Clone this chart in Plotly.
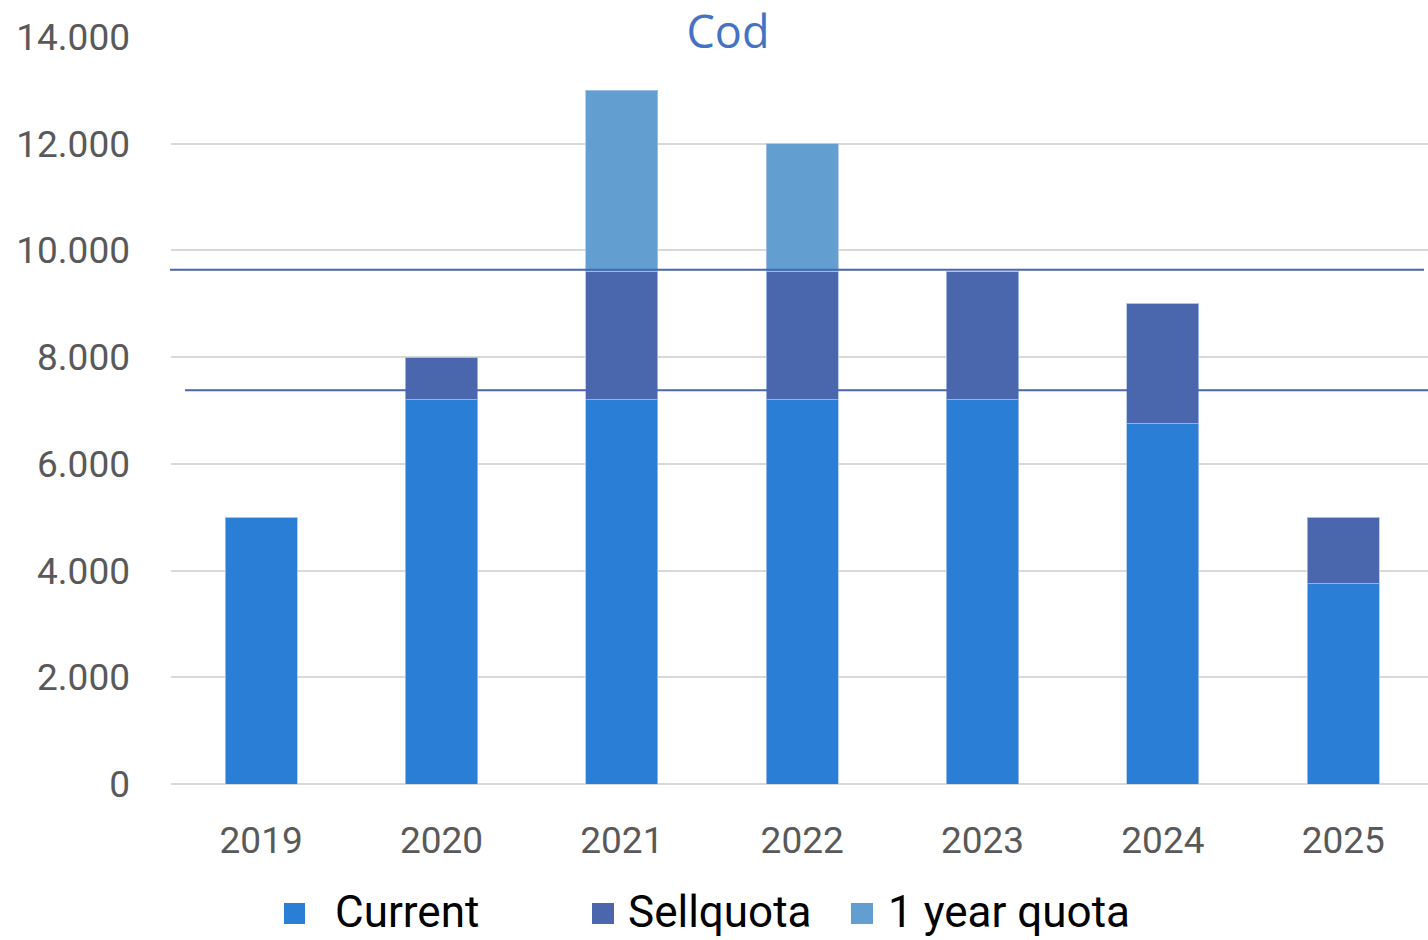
import plotly.graph_objects as go

years = ["2019", "2020", "2021", "2022", "2023", "2024", "2025"]
current = [5000, 7200, 7200, 7200, 7200, 6750, 3750]
sellquota = [0, 800, 2400, 2400, 2400, 2250, 1250]
one_year_quota = [0, 0, 3400, 2400, 0, 0, 0]
series_names = ["Current", "Sellquota", "1 year quota"]
series_colors = ["#2A7ED6", "#4A67AD", "#639ED0"]
ref_levels = [9640, 7380]
y_ticks = [0, 2000, 4000, 6000, 8000, 10000, 12000, 14000]

W, H = 1428, 940
L, R, T, B = 171, 0, 37, 156
PW, PH = W - L - R, H - T - B

def px_x(px):
    return (px - L) / PW

def px_y(py):
    return (H - B - py) / PH

fig = go.Figure()
for name, vals, col in zip(series_names, [current, sellquota, one_year_quota], series_colors):
    fig.add_trace(go.Bar(
        x=years, y=vals, name=name, width=0.4,
        marker=dict(color=col, line=dict(color="rgba(170,195,235,0.8)", width=1)),
        showlegend=False,
    ))

# reference lines
line_spans = [(170, 1424), (185, 1428)]
for lvl, (a, b) in zip(ref_levels, line_spans):
    fig.add_shape(type="line", xref="paper", yref="y", x0=px_x(a), x1=px_x(b),
                  y0=lvl, y1=lvl, line=dict(color="#4A67AD", width=2), layer="above")

# manual legend
legend_boxes = [(284, 305), (592, 614), (851, 873)]
legend_text_x = [333, 626, 886]
for name, col, (a, b), tx in zip(series_names, series_colors, legend_boxes, legend_text_x):
    fig.add_shape(type="rect", xref="paper", yref="paper", x0=px_x(a), x1=px_x(b),
                  y0=px_y(924), y1=px_y(903), fillcolor=col, line=dict(width=0))
    fig.add_annotation(text=name, xref="paper", yref="paper", x=px_x(tx), y=px_y(912),
                       xanchor="left", yanchor="middle", showarrow=False,
                       font=dict(family="Roboto", size=44, color="#000000"))

fig.update_layout(
    width=W, height=H, autosize=False,
    margin=dict(l=L, r=R, t=T, b=B),
    barmode="stack", bargap=0.6,
    plot_bgcolor="white", paper_bgcolor="white",
    separators=",.",
    showlegend=False,
    title=dict(text="Cod", x=728 / W, xref="container", xanchor="center",
               y=1 - 32 / H, yref="container", yanchor="middle",
               font=dict(family="Open Sans", size=45, color="#4472C4")),
    font=dict(family="Roboto", color="#595959"),
)
fig.update_xaxes(range=[-0.5, 6.47], showgrid=False, showline=False, zeroline=False,
                 tickfont=dict(family="Roboto", size=37, color="#595959"),
                 ticks="", ticklabelstandoff=31)
fig.update_yaxes(range=[0, 14000], tickvals=y_ticks, tickformat=",d",
                 showgrid=True, gridcolor="#D9D9D9", gridwidth=1.5,
                 zeroline=True, zerolinecolor="#D9D9D9", zerolinewidth=1.5,
                 showline=False, ticks="", ticklabelstandoff=40,
                 tickfont=dict(family="Roboto", size=37, color="#595959"))

fig.write_html(
    "out.html",
    config={"displayModeBar": False},
    post_script="document.body.style.margin='0';document.body.style.overflow='hidden';",
)
